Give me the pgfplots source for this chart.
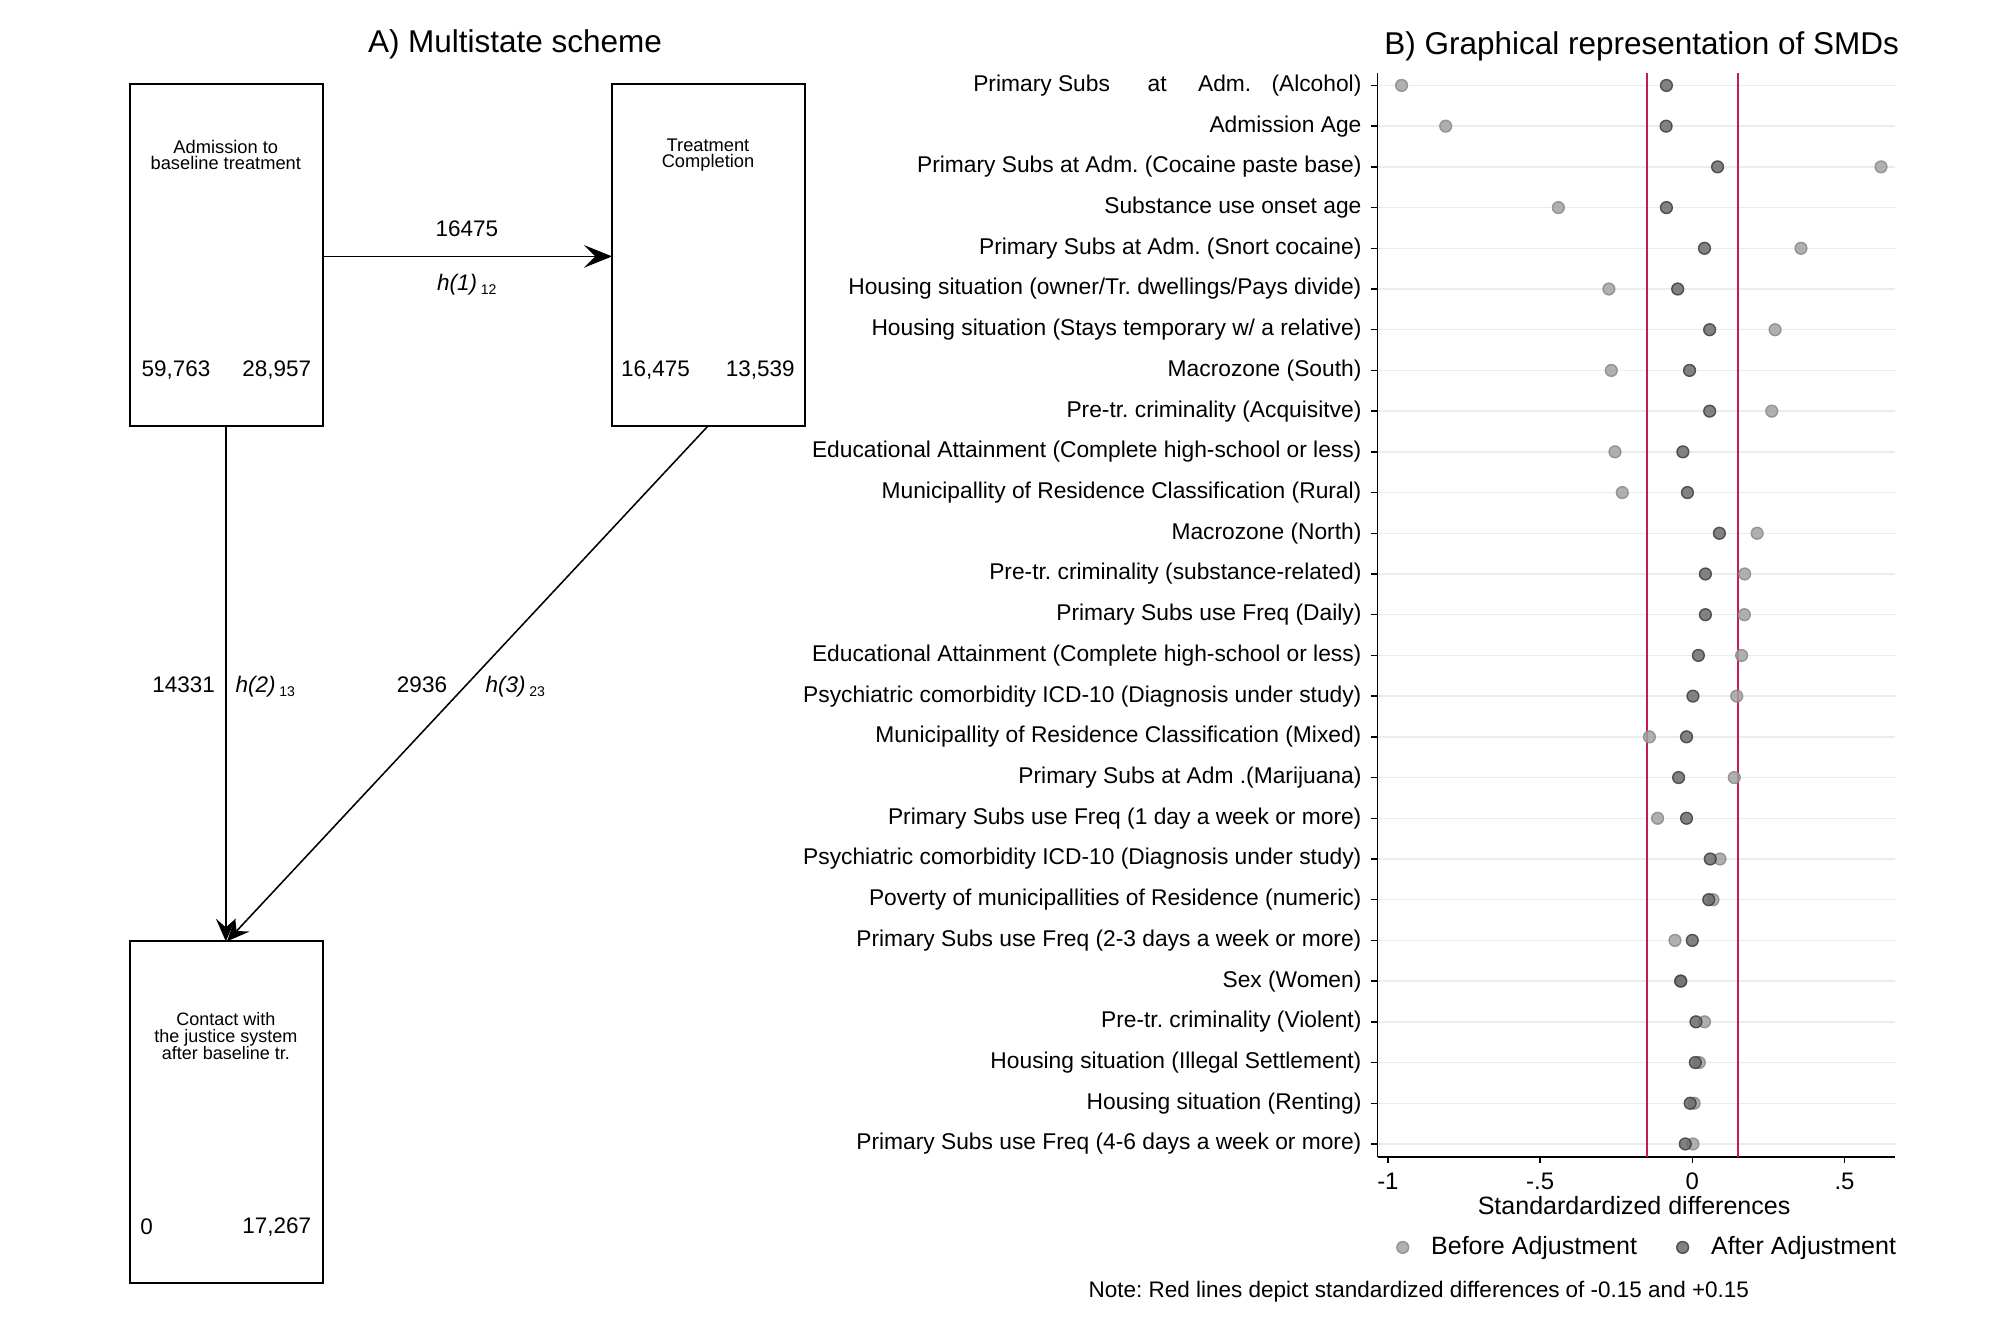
\documentclass[border=0pt]{standalone}
\usepackage{pgfplots}
\pgfplotsset{compat=1.18}
\usepackage{fontspec}
\setmainfont{Liberation Sans}
\usetikzlibrary{arrows.meta}
\frenchspacing

\definecolor{beforedraw}{HTML}{8A8A8A}
\definecolor{beforefill}{HTML}{A2A2A2}
\definecolor{afterdraw}{HTML}{3E3E3E}
\definecolor{afterfill}{HTML}{6C6C6C}
\definecolor{redline}{HTML}{C41C50}
\definecolor{gridc}{HTML}{E6EEF0}

\newcommand{\fsz}[2]{\fontsize{#1}{#2}\selectfont}
\newcommand{\hsub}[2]{\textit{h(#1)}\,\raisebox{-0.3ex}{\fsz{5}{6}#2}}

\pgfplotstableread{
x y
-0.955 27
-0.810 26
0.620 25
-0.440 24
0.357 23
-0.274 22
0.272 21
-0.266 20
0.261 19
-0.254 18
-0.230 17
0.213 16
0.172 15
0.171 14
0.162 13
0.146 12
-0.141 11
0.138 10
-0.114 9
0.091 8
0.068 7
-0.057 6
-0.038 5
0.040 4
0.023 3
0.006 2
0.002 1
}\before

\pgfplotstableread{
x y
-0.085 27
-0.086 26
0.083 25
-0.085 24
0.040 23
-0.048 22
0.057 21
-0.009 20
0.057 19
-0.031 18
-0.016 17
0.089 16
0.043 15
0.043 14
0.020 13
0.002 12
-0.019 11
-0.045 10
-0.019 9
0.059 8
0.054 7
0.000 6
-0.038 5
0.012 4
0.010 3
-0.007 2
-0.023 1
}\after

\begin{document}
\frenchspacing
\begin{tikzpicture}
\useasboundingbox (0,0) rectangle (25cm,16.6625cm);
% ---------- canvas for panel A and free text ----------
\begin{axis}[at={(0,0)}, anchor=south west, width=25cm, height=16.6625cm,
  scale only axis, hide axis, xmin=0, xmax=2000, ymin=0, ymax=1333,
  y dir=reverse, clip=false]
  % boxes
  \draw[line width=0.65pt] (130,84.2) rectangle (322.7,426);
  \draw[line width=0.65pt] (612.2,84.2) rectangle (804.8,426);
  \draw[line width=0.65pt] (130,941.3) rectangle (322.7,1283);
  % arrows
  \draw[line width=0.6pt, -{Stealth[length=10pt,width=8pt,inset=4pt]}] (322.7,256.4) -- (612.2,256.4);
  \draw[line width=0.55pt, -{Stealth[length=8pt,width=7pt,inset=3pt]}] (225.8,426) -- (225.8,941.3);
  \draw[line width=0.55pt, -{Stealth[length=8pt,width=7pt,inset=3pt]}] (708,426) -- (227,941.3);
  % titles
  \node[font=\fsz{11.2}{13}] at (515,44.6) {A) Multistate scheme};
  \node[font=\fsz{11.2}{13}] at (1641.6,46) {B) Graphical representation of SMDs};
  % box texts
  \node[align=center, font=\fsz{6.5}{5.9}] at (225.8,155) {Admission to\\baseline treatment};
  \node[align=center, font=\fsz{6.5}{5.9}] at (708,155) {Treatment\\Completion};
  \node[align=center, font=\fsz{6.4}{6.1}] at (225.8,1036) {Contact with\\the justice system\\after baseline tr.};
  \node[font=\fsz{8}{9}] at (176,370) {59,763};
  \node[font=\fsz{8}{9}] at (276.8,370) {28,957};
  \node[font=\fsz{8}{9}] at (655.6,370) {16,475};
  \node[font=\fsz{8}{9}] at (760.2,370) {13,539};
  \node[font=\fsz{8}{9}] at (146.7,1227) {0};
  \node[font=\fsz{8}{9}] at (276.8,1227) {17,267};
  % transition labels
  \node[font=\fsz{8}{9}] at (466.8,228.3) {16475};
  \node[font=\fsz{8}{9}] at (466.8,285) {\hsub{1}{12}};
  \node[font=\fsz{8}{9}] at (183.7,685) {14331};
  \node[font=\fsz{8}{9}] at (265.3,687) {\hsub{2}{13}};
  \node[font=\fsz{8}{9}] at (422,685) {2936};
  \node[font=\fsz{8}{9}] at (515.3,687) {\hsub{3}{23}};
  % note
  \node[font=\fsz{8}{9}, anchor=west, inner sep=0pt] at (1088,1292) {Note: Red lines depict standardized differences of -0.15 and +0.15};
\end{axis}
% ---------- panel B ----------
\begin{axis}[at={(17.219cm,2.2cm)}, anchor=south west,
  width=6.469cm, height=13.554cm, scale only axis,
  xmin=-1.034, xmax=0.666, ymin=0.68, ymax=27.314,
  axis x line*=bottom, axis y line*=left,
  axis line style={line width=0.6pt, -},
  tick align=outside, major tick length=2.2pt,
  tick style={line width=0.5pt, black},
  xtick={-1,-0.5,0,0.5}, xticklabels={-1,-.5,0,.5},
  ytick={1,...,27},
  yticklabels={
    {Primary Subs use Freq (4-6 days a week or more)},
    {Housing situation (Renting)},
    {Housing situation (Illegal Settlement)},
    {Pre-tr. criminality (Violent)},
    {Sex (Women)},
    {Primary Subs use Freq (2-3 days a week or more)},
    {Poverty of municipallities of Residence (numeric)},
    {Psychiatric comorbidity ICD-10 (Diagnosis under study)},
    {Primary Subs use Freq (1 day a week or more)},
    {Primary Subs at Adm .(Marijuana)},
    {Municipallity of Residence Classification (Mixed)},
    {Psychiatric comorbidity ICD-10 (Diagnosis under study)},
    {Educational Attainment (Complete high-school or less)},
    {Primary Subs use Freq (Daily)},
    {Pre-tr. criminality (substance-related)},
    {Macrozone (North)},
    {Municipallity of Residence Classification (Rural)},
    {Educational Attainment (Complete high-school or less)},
    {Pre-tr. criminality (Acquisitve)},
    {Macrozone (South)},
    {Housing situation (Stays temporary w/ a relative)},
    {Housing situation (owner/Tr. dwellings/Pays divide)},
    {Primary Subs at Adm. (Snort cocaine)},
    {Substance use onset age},
    {Primary Subs at Adm. (Cocaine paste base)},
    {Admission Age},
    {Primary Subs\hspace{13.4pt}at\hspace{11.2pt}Adm.\hspace{7.2pt}(Alcohol)}
  },
  yticklabel style={font=\fsz{8.1}{9}},
  xticklabel style={font=\fsz{8.5}{9}},
  ymajorgrids, grid style={gridc, line width=0.5pt},
  xlabel={Standardardized differences},
  xlabel style={at={(axis description cs:0.4957,-0.0446)}, anchor=center, font=\fsz{8.9}{10}},
  legend columns=2,
  legend style={at={(axis description cs:1.0128,-0.0834)}, anchor=east,
    draw=none, fill=none, inner sep=0pt, outer sep=0pt, font=\fsz{8.9}{10},
    /tikz/every even column/.append style={column sep=0.30cm}},
  legend image code/.code={\path[draw=none,fill=none] (0cm,-0.08cm) rectangle (0.485cm,0.08cm);
    \draw[mark repeat=2,mark phase=2,#1] plot coordinates {(0cm,0cm)(0.2cm,0cm)(0.4cm,0cm)};},
  clip=false]
  \addplot[redline, line width=0.8pt, forget plot] coordinates {(-0.15,0.68) (-0.15,27.314)};
  \addplot[redline, line width=0.8pt, forget plot] coordinates {(0.15,0.68) (0.15,27.314)};
  \addplot[only marks, mark=*, mark size=2.1pt,
    mark options={draw=beforedraw, fill=beforefill, line width=0.5pt, opacity=0.85}]
    table[x=x, y=y] {\before};
  \addlegendentry{Before Adjustment}
  \addplot[only marks, mark=*, mark size=2.1pt,
    mark options={draw=afterdraw, fill=afterfill, line width=0.5pt, opacity=0.85}]
    table[x=x, y=y] {\after};
  \addlegendentry{After Adjustment}
\end{axis}
\end{tikzpicture}
\end{document}
